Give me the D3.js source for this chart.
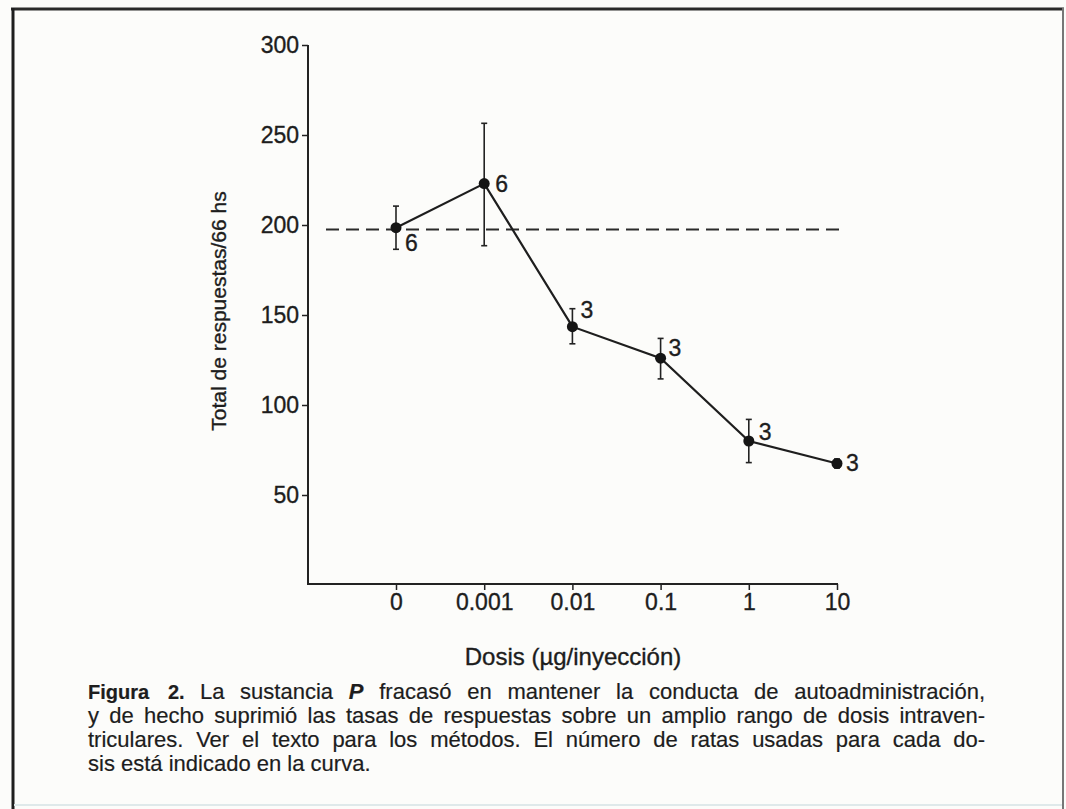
<!DOCTYPE html>
<html>
<head>
<meta charset="utf-8">
<script src="https://cdn.jsdelivr.net/npm/d3@7"></script>
<style>
  body { margin: 0; background: #fff; }
  text { font-family: "Liberation Sans", Arial, sans-serif; fill: #1d1d1d; stroke: #1d1d1d; stroke-width: 0.35; }
  text.cap { stroke-width: 0.2; }
</style>
</head>
<body>
<svg id="chart"></svg>
<script>
// data
const doses = ["0", "0.001", "0.01", "0.1", "1", "10"];
const means = [198.5, 223, 143.5, 126, 80, 67.5];
const errHigh = [210.5, 256.5, 153.5, 137, 92, 70];
const errLow = [186.5, 188.5, 134, 114.5, 68, 65];
const ratCounts = [6, 6, 3, 3, 3, 3];
const yTicks = [50, 100, 150, 200, 250, 300];
const controlLevel = 197.5;

const yTitle = "Total de respuestas/66 hs";
const xTitle = "Dosis (\u00b5g/inyecci\u00f3n)";
const captionLines = [
  "La sustancia P fracas\u00f3 en mantener la conducta de autoadministraci\u00f3n,",
  "y de hecho suprimi\u00f3 las tasas de respuestas sobre un amplio rango de dosis intraven-",
  "triculares. Ver el texto para los m\u00e9todos. El n\u00famero de ratas usadas para cada do-",
  "sis est\u00e1 indicado en la curva."
];

// where the little "n" labels sit next to each point
const labelDx = [9, 11, 8, 8, 10, 9];
const labelDy = [23, 8, -9, -2, -1.5, 7.5];

const width = 1066;
const height = 809;

const svg = d3.select("#chart")
    .attr("width", width)
    .attr("height", height);

svg.append("rect")
    .attr("width", width)
    .attr("height", height)
    .attr("fill", "#fcfcfa");

// frame of the scanned page
svg.append("line").attr("x1", 11).attr("x2", 1064).attr("y1", 9).attr("y2", 9)
    .attr("stroke", "#2a2a2a").attr("stroke-width", 3);
svg.append("line").attr("x1", 13).attr("x2", 13).attr("y1", 8).attr("y2", height)
    .attr("stroke", "#1e1e1e").attr("stroke-width", 3);
svg.append("line").attr("x1", 1063).attr("x2", 1063).attr("y1", 8).attr("y2", height)
    .attr("stroke", "#777").attr("stroke-width", 2);
svg.append("line").attr("x1", 14).attr("x2", 1062).attr("y1", 805).attr("y2", 805)
    .attr("stroke", "#dfe9ea").attr("stroke-width", 2);

const axisLeftX = 308, axisRightX = 838, axisBottomY = 584;

const x = d3.scalePoint()
    .domain(doses)
    .range([396, 837]);

const y = d3.scaleLinear()
    .domain([0, 300])
    .range([585, 45]);

// axes
const yAxis = svg.append("g")
    .attr("transform", `translate(${axisLeftX},0)`)
    .call(d3.axisLeft(y).tickValues(yTicks).tickSize(6).tickPadding(3).tickSizeOuter(0));
yAxis.select(".domain").remove();
yAxis.selectAll(".tick line").attr("stroke", "#222").attr("stroke-width", 1.5);
yAxis.selectAll(".tick text")
    .attr("font-size", 23)
    .attr("font-family", "Liberation Sans, Arial, sans-serif")
    .attr("fill", "#1d1d1d");

const xAxis = svg.append("g")
    .attr("transform", `translate(0,${axisBottomY})`)
    .call(d3.axisBottom(x).tickSize(6).tickPadding(4).tickSizeOuter(0));
xAxis.select(".domain").remove();
xAxis.selectAll(".tick line").attr("stroke", "#222").attr("stroke-width", 1.5);
xAxis.selectAll(".tick text")
    .attr("font-size", 23)
    .attr("font-family", "Liberation Sans, Arial, sans-serif")
    .attr("fill", "#1d1d1d");

svg.append("path")
    .attr("d", `M${axisLeftX},${y(300)}V${axisBottomY}H${axisRightX}`)
    .attr("fill", "none")
    .attr("stroke", "#222")
    .attr("stroke-width", 2);

// control level (dashed)
svg.append("line")
    .attr("x1", x("0") - 70)
    .attr("x2", x("10") + 3)
    .attr("y1", y(controlLevel))
    .attr("y2", y(controlLevel))
    .attr("stroke", "#2a2a2a")
    .attr("stroke-width", 1.8)
    .attr("stroke-dasharray", "13,7");

const pts = doses.map((d, i) => ({dose: d, mean: means[i], hi: errHigh[i], lo: errLow[i], n: ratCounts[i], i: i}));

// error bars
const eb = svg.append("g").attr("stroke", "#222").attr("stroke-width", 1.6);
eb.selectAll(".bar").data(pts).join("line")
    .attr("x1", d => x(d.dose)).attr("x2", d => x(d.dose))
    .attr("y1", d => y(d.hi)).attr("y2", d => y(d.lo));
eb.selectAll(".capTop").data(pts).join("line")
    .attr("x1", d => x(d.dose) - 3).attr("x2", d => x(d.dose) + 3)
    .attr("y1", d => y(d.hi)).attr("y2", d => y(d.hi));
eb.selectAll(".capBot").data(pts).join("line")
    .attr("x1", d => x(d.dose) - 3).attr("x2", d => x(d.dose) + 3)
    .attr("y1", d => y(d.lo)).attr("y2", d => y(d.lo));

// curve
const line = d3.line()
    .x(d => x(d.dose))
    .y(d => y(d.mean));

svg.append("path")
    .datum(pts)
    .attr("d", line)
    .attr("fill", "none")
    .attr("stroke", "#1e1e1e")
    .attr("stroke-width", 2.2);

svg.append("g").selectAll("circle").data(pts).join("circle")
    .attr("cx", d => x(d.dose))
    .attr("cy", d => y(d.mean))
    .attr("r", 5.5)
    .attr("fill", "#151515");

svg.append("g").selectAll("text").data(pts).join("text")
    .attr("x", d => x(d.dose) + labelDx[d.i])
    .attr("y", d => y(d.mean) + labelDy[d.i])
    .attr("font-size", 23)
    .text(d => d.n);

// axis titles
svg.append("text")
    .attr("transform", "translate(226,311) rotate(-90)")
    .attr("text-anchor", "middle")
    .attr("font-size", 21)
    .text(yTitle);

svg.append("text")
    .attr("x", 573)
    .attr("y", 665)
    .attr("text-anchor", "middle")
    .attr("font-size", 24)
    .text(xTitle);

// caption, justified like the printed page
const capLeft = 88, capRight = 985, capTop = 699, capStep = 24, capSize = 22;

svg.append("text")
    .attr("class", "cap")
    .attr("x", capLeft)
    .attr("y", capTop)
    .attr("font-size", capSize - 2)
    .attr("font-weight", "bold")
    .text("Figura");

function justify(sel, w) {
  const node = sel.node();
  const natural = node.getComputedTextLength();
  const spaces = (node.textContent.match(/ /g) || []).length;
  if (spaces > 0) sel.attr("word-spacing", Math.max(0, (w - natural) / spaces));
}

const first = svg.append("text")
    .attr("class", "cap")
    .attr("x", 168)
    .attr("y", capTop)
    .attr("font-size", capSize);
first.append("tspan").attr("font-weight", "bold").attr("font-size", capSize - 2).text("2. ");
first.append("tspan").text("La sustancia ");
first.append("tspan").attr("font-style", "italic").attr("font-weight", "bold").text("P");
first.append("tspan").text(captionLines[0].replace("La sustancia P", ""));
justify(first, capRight - 168);

captionLines.slice(1).forEach((t, k) => {
  const tx = svg.append("text")
      .attr("class", "cap")
      .attr("x", capLeft)
      .attr("y", capTop + capStep * (k + 1))
      .attr("font-size", capSize)
      .text(t);
  if (k < 2) justify(tx, capRight - capLeft);
});
</script>
</body>
</html>
